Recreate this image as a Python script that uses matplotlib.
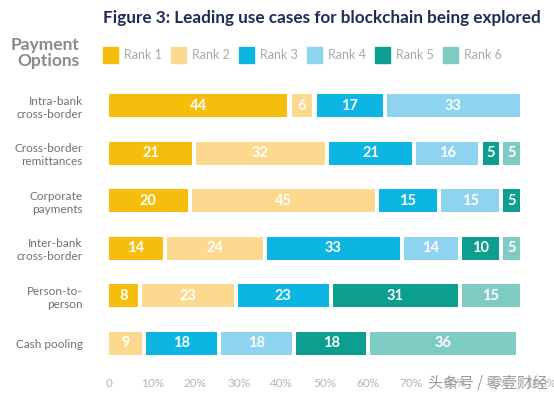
import numpy as np
import matplotlib
matplotlib.use('Agg')
import matplotlib.pyplot as plt

plt.rcParams['font.family'] = ['Lato', 'DejaVu Sans']

categories = ['Intra-bank\ncross-border', 'Cross-border\nremittances', 'Corporate\npayments',
              'Inter-bank\ncross-border', 'Person-to-\nperson', 'Cash pooling']
rank_names = ['Rank 1', 'Rank 2', 'Rank 3', 'Rank 4', 'Rank 5', 'Rank 6']
# share of respondents per rank, one list per rank (0 = not present)
rank1 = [44, 21, 20, 14, 8, 0]
rank2 = [6, 32, 45, 24, 23, 9]
rank3 = [17, 21, 15, 33, 23, 18]
rank4 = [33, 16, 15, 14, 0, 18]
rank5 = [0, 5, 5, 10, 31, 18]
rank6 = [0, 5, 0, 5, 15, 36]
tick_labels = ['0', '10%', '20%', '30%', '40%', '50%', '60%', '70%', '80%', '90%', '100%']

colors = ['#f5bd0c', '#fdd98f', '#0cb5e2', '#8ed3ef', '#0c9e8e', '#7ecbc3']
ranks = [rank1, rank2, rank3, rank4, rank5, rank6]

fig = plt.figure(figsize=(5.54, 3.99), dpi=100)
px_w, px_h = 554, 399
# axes: x=0 at 109px, 4.15px per unit ; rows from 82 to 367 px
ax = fig.add_axes([109 / px_w, (px_h - 367) / px_h, 105 * 4.15 / px_w, 285 / px_h])

gap = 1.0  # white space between segments, data units
y = np.arange(len(categories))
left = np.zeros(len(categories))
for vals, col in zip(ranks, colors):
    vals = np.array(vals, dtype=float)
    for i in range(len(categories)):
        if vals[i] == 0:
            continue
        ax.barh(y[i], vals[i] - gap, left=left[i], height=0.49, color=col)
        ax.text(left[i] + (vals[i] - gap) / 2, y[i], str(int(vals[i])), ha='center', va='center',
                color='white', fontsize=10.5, fontweight='bold')
    left += vals

ax.set_xlim(0, 105)
ax.set_ylim(len(categories) - 0.5, -0.5)
# tick spacing in the original is wider than the bar scale
ax.set_xticks(np.arange(11) * 10 * 43.2 / 41.5)
ax.set_xticklabels(tick_labels)
ax.set_yticks(y)
ax.set_yticklabels(categories, multialignment='right')
ax.tick_params(axis='x', colors='#b4b4b4', labelsize=8.5, length=0, pad=8)
ax.tick_params(axis='y', colors='#707070', labelsize=8.5, length=0, pad=19)
for location in ['left', 'right', 'bottom', 'top']:
    ax.spines[location].set_visible(False)

fig.text(541 / px_w, 1 - 18 / px_h, 'Figure 3: Leading use cases for blockchain being explored',
         ha='right', va='center', fontsize=12.3, fontweight='bold', color='#1d2b57')
fig.text(79 / px_w, 1 - 53 / px_h, 'Payment\nOptions', ha='right', va='center',
         fontsize=12.5, fontweight='bold', color='#8a8a8a', linespacing=1.0)

# legend
for k, (name, col) in enumerate(zip(rank_names, colors)):
    x0 = 103 + 68 * k
    fig.patches.append(plt.Rectangle((x0 / px_w, 1 - 63 / px_h), 15 / px_w, 16 / px_h,
                                     transform=fig.transFigure, color=col))
    fig.text((x0 + 21) / px_w, 1 - 55 / px_h, name, ha='left', va='center',
             fontsize=9, color='#a8a8a8')

fig.text(548 / px_w, 1 - 383 / px_h, '头条号 / 零壹财经', ha='right', va='center',
         fontsize=11, color='#9a9a9a', family=['Noto Sans CJK SC', 'DejaVu Sans'])

fig.savefig('out.png', dpi=100, facecolor='white')
